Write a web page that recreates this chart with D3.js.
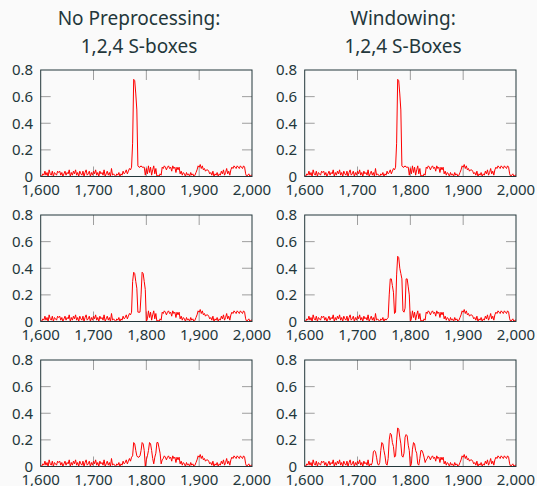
<!DOCTYPE html>
<html><head><meta charset="utf-8">
<script src="https://cdn.jsdelivr.net/npm/d3@7"></script>
<style>
html,body{margin:0;padding:0;background:#fafafa;}
svg{display:block;}
text{font-family:"Noto Sans","Open Sans",sans-serif;fill:#23373b;}
</style></head><body>
<script>
// ---- data ----
const xStart = 1600, xStep = 2;
const xTicks = [1600, 1700, 1800, 1900, 2000];
const yTicks = [0, 0.2, 0.4, 0.6, 0.8];
const titles = [["No Preprocessing:", "1,2,4 S-boxes"], ["Windowing:", "1,2,4 S-Boxes"]];

// shared background (x = 1600..2000 step 2)
const baseNoise = [
 0.01,0.00,0.02,0.01,0.04,0.01,0.03,0.00,0.05,0.02,
 0.01,0.04,0.00,0.03,0.02,0.01,0.04,0.03,0.04,0.01,
 0.03,0.00,0.02,0.04,0.01,0.03,0.02,0.05,0.00,0.03,
 0.01,0.04,0.02,0.05,0.01,0.03,0.00,0.04,0.02,0.01,
 0.04,0.00,0.03,0.05,0.01,0.02,0.04,0.00,0.03,0.01,
 0.04,0.02,0.05,0.01,0.03,0.00,0.04,0.02,0.03,0.01,
 0.05,0.00,0.02,0.04,0.01,0.03,0.00,0.06,0.01,0.02,
 0.01,0.00,0.02,0.01,0.03,0.00,0.02,0.01,0.04,0.02,
 0.03,0.05,0.02,0.04,0.06,0.07,0.07,0.07,0.07,0.07,
 0.07,0.07,0.08,0.07,0.07,0.08,0.07,0.07,0.07,0.01,
 0.06,0.02,0.08,0.03,0.07,0.01,0.05,0.08,0.02,0.06,
 0.00,0.01,0.00,0.02,0.01,0.07,0.06,0.08,0.07,0.05,
 0.07,0.08,0.06,0.07,0.04,0.08,0.06,0.07,0.03,0.07,
 0.05,0.07,0.02,0.04,0.01,0.03,0.02,0.00,0.03,0.01,
 0.02,0.00,0.03,0.01,0.02,0.00,0.01,0.03,0.05,0.08,
 0.07,0.09,0.06,0.08,0.05,0.06,0.04,0.05,0.05,0.04,
 0.02,0.03,0.01,0.04,0.00,0.02,0.01,0.03,0.00,0.02,
 0.01,0.04,0.02,0.05,0.01,0.03,0.06,0.02,0.04,0.01,
 0.05,0.07,0.06,0.08,0.07,0.06,0.08,0.07,0.06,0.08,
 0.07,0.06,0.08,0.07,0.02,0.00,0.01,0.02,0.00,0.01,0.01
];

// peak segments per panel (start x, values step 2)
const peakStart = [1770, 1770, 1770, 1756, 1770, 1726]; // order: row-major (left,right)
const peakTopLeft = [0.05,0.07,0.25,0.73,0.72,0.62,0.50,0.08];
const peakTopRight = [0.05,0.07,0.25,0.73,0.72,0.62,0.50,0.08];
const peakMidLeft = [0.05,0.07,0.30,0.37,0.36,0.30,0.25,0.07,0.07,0.07,0.20,0.37,0.36,0.30,0.24,0.00];
const peakMidRight = [0.02,0.03,0.20,0.32,0.32,0.27,0.22,0.06,0.07,0.35,0.49,0.48,0.40,0.36,0.32,0.08,0.07,0.10,0.32,0.32,0.26,0.20,0.00];
const peakBotLeft = [0.04,0.07,0.08,0.18,0.17,0.12,0.08,0.07,0.07,0.08,0.12,0.18,0.17,0.12,0.00,0.05,0.08,0.12,0.18,0.17,0.12,0.06,0.02,0.07,0.10,0.18,0.18,0.14,0.10,0.02,0.05];
const peakBotRight = [0.01,0.03,0.11,0.12,0.11,0.07,0.02,0.01,0.03,0.12,0.18,0.17,0.12,0.08,0.02,0.01,0.06,0.20,0.25,0.24,0.18,0.15,0.07,0.08,0.20,0.29,0.28,0.22,0.17,0.08,0.07,0.10,0.22,0.24,0.23,0.16,0.12,0.00,0.02,0.13,0.18,0.17,0.12,0.10,0.02,0.01,0.06,0.12,0.12,0.10,0.07,0.03,0.05];
const peaks = [peakTopLeft, peakTopRight, peakMidLeft, peakMidRight, peakBotLeft, peakBotRight];

// ---- layout ----
const W = 537, H = 486;
const colX = [40.7, 304.7], plotW = 211.3;
const rowY = [70, 215, 360], plotH = 106.5;
const titleCx = [139, 403];

const svg = d3.select("body").append("svg").attr("width", W).attr("height", H);
svg.append("rect").attr("width", W).attr("height", H).attr("fill", "#fafafa");

// titles
titles.forEach((t, c) => {
  t.forEach((line, k) => {
    svg.append("text").attr("x", titleCx[c]).attr("y", 25 + k * 28)
      .attr("text-anchor", "middle").style("font-size", "19px").text(line);
  });
});

function seriesFor(p) {
  return baseNoise.map((v, i) => {
    const x = xStart + i * xStep;
    const j = (x - peakStart[p]) / xStep;
    const pk = peaks[p];
    return {x: x, y: (j >= 0 && j < pk.length) ? pk[j] : v};
  });
}

for (let r = 0; r < 3; r++) {
  for (let c = 0; c < 2; c++) {
    const p = r * 2 + c;
    const x = d3.scaleLinear().domain([1600, 2000]).range([colX[c], colX[c] + plotW]);
    const y = d3.scaleLinear().domain([0, 0.8]).range([rowY[r] + plotH, rowY[r]]);
    const g = svg.append("g");
    g.append("rect").attr("x", x(1600)).attr("y", y(0.8)).attr("width", plotW).attr("height", plotH)
      .attr("fill", "#fafafa");
    const tickLen = 10;
    const inner = v => v > 1600 && v < 2000;
    const fmt = d3.format(",");
    // tick marks (inward, all four sides)
    xTicks.filter(inner).forEach(v => {
      g.append("line").attr("x1", x(v)).attr("x2", x(v)).attr("y1", y(0)).attr("y2", y(0) - tickLen)
        .attr("stroke", "#9e9e9e").attr("stroke-width", 1);
      g.append("line").attr("x1", x(v)).attr("x2", x(v)).attr("y1", y(0.8)).attr("y2", y(0.8) + tickLen)
        .attr("stroke", "#9e9e9e").attr("stroke-width", 1);
    });
    yTicks.filter(v => v > 0 && v < 0.8).forEach(v => {
      g.append("line").attr("x1", x(1600)).attr("x2", x(1600) + tickLen).attr("y1", y(v)).attr("y2", y(v))
        .attr("stroke", "#9e9e9e").attr("stroke-width", 1);
      g.append("line").attr("x1", x(2000)).attr("x2", x(2000) - tickLen).attr("y1", y(v)).attr("y2", y(v))
        .attr("stroke", "#9e9e9e").attr("stroke-width", 1);
    });
    // line
    const data = seriesFor(p);
    g.append("path").datum(data)
      .attr("d", d3.line().x(d => x(d.x)).y(d => y(d.y)))
      .attr("fill", "none").attr("stroke", "#ff0000").attr("stroke-width", 1)
      .attr("stroke-linejoin", "round");
    // frame
    g.append("rect").attr("x", x(1600)).attr("y", y(0.8)).attr("width", plotW).attr("height", plotH)
      .attr("fill", "none").attr("stroke", "#23373b").attr("stroke-width", 1);
    // labels
    xTicks.forEach(v => {
      g.append("text").attr("x", x(v)).attr("y", y(0) + 18.3).attr("text-anchor", "middle")
        .style("font-size", "15px").text(fmt(v));
    });
    yTicks.forEach(v => {
      g.append("text").attr("x", x(1600) - 7.5).attr("y", y(v)).attr("dy", "0.35em")
        .attr("text-anchor", "end").style("font-size", "15px").text(v === 0 ? "0" : d3.format(".1f")(v));
    });
  }
}
</script>
</body></html>
